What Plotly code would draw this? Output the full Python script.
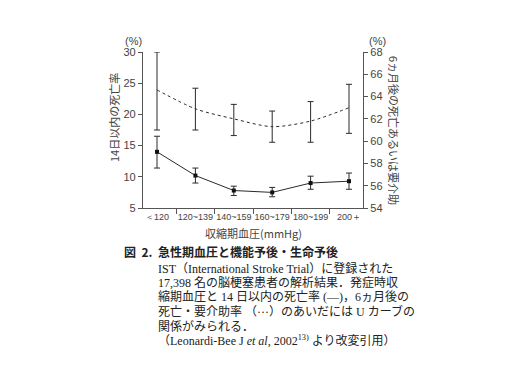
import plotly.graph_objects as go

categories = ["＜120", "120~139", "140~159", "160~179", "180~199", "200＋"]
death14 = [14.0, 10.2, 7.8, 7.5, 9.0, 9.3]
death14_hi = [16.5, 11.4, 8.5, 8.3, 10.1, 10.6]
death14_lo = [11.4, 9.0, 7.0, 6.8, 8.0, 8.0]
dep6m = [64.6, 62.9, 62.0, 61.3, 61.8, 63.0]
dep6m_hi = [68.0, 64.75, 63.3, 62.7, 63.55, 65.1]
dep6m_lo = [61.0, 61.0, 60.5, 59.9, 59.9, 60.7]

# page has an 8px body margin; work in screen pixels and convert
OFF = 8
W, H = 512 - OFF, 384 - OFF
L, R, T, B = 143, 363, 52, 208   # plot area in screen pixels
def px(x):
    return (x - L) / (R - L)
def py(y):
    return (B - y) / (B - T)

LINE = "#2a2a2a"
AX = "#555555"

fig = go.Figure()
fig.add_trace(go.Scatter(
    x=categories, y=dep6m, yaxis="y2", mode="lines",
    line=dict(color=LINE, width=1, dash="3px,3px", shape="spline", smoothing=0.8),
    error_y=dict(type="data", symmetric=False,
                 array=[h - v for h, v in zip(dep6m_hi, dep6m)],
                 arrayminus=[v - l for l, v in zip(dep6m_lo, dep6m)],
                 color=LINE, thickness=1, width=3),
    showlegend=False))
fig.add_trace(go.Scatter(
    x=categories, y=death14, mode="lines+markers",
    line=dict(color=LINE, width=1),
    marker=dict(symbol="square", size=4, color="#111"),
    error_y=dict(type="data", symmetric=False,
                 array=[h - v for h, v in zip(death14_hi, death14)],
                 arrayminus=[v - l for l, v in zip(death14_lo, death14)],
                 color=LINE, thickness=1, width=3),
    showlegend=False))

tickfont = dict(family="Liberation Sans, Arial", size=11, color="#444")
xtickfont = dict(family="Liberation Sans, Arial", size=9, color="#444")
fig.update_layout(
    width=W, height=H,
    margin=dict(l=L - OFF, r=(512 - R), t=T - OFF, b=(384 - B), autoexpand=False),
    paper_bgcolor="white", plot_bgcolor="white",
    xaxis=dict(type="category", categoryorder="array", categoryarray=categories,
               tickson="boundaries", showgrid=False, zeroline=False,
               showline=True, linecolor=AX, linewidth=1.2, ticks="outside",
               ticklen=5, tickcolor=AX, tickangle=0, automargin=False,
               tickfont=xtickfont),
    yaxis=dict(range=[5, 30], dtick=5, showgrid=False, zeroline=False,
               showline=True, linecolor=AX, linewidth=1.2, ticks="outside",
               ticklen=4, tickcolor=AX, tickfont=tickfont, automargin=False),
    yaxis2=dict(range=[54, 68], dtick=2, overlaying="y", side="right",
                showgrid=False, zeroline=False, showline=True, linecolor=AX,
                linewidth=1.2, ticks="outside", ticklen=4, tickcolor=AX,
                tickfont=tickfont, automargin=False),
)

ann = []
def add(x, y, text, size=11, anchor="left", angle=0, family="Noto Sans CJK JP", color="#333", yanchor="middle"):
    ann.append(dict(x=px(x), y=py(y), xref="paper", yref="paper", text=text,
                    showarrow=False, xanchor=anchor, yanchor=yanchor, textangle=angle,
                    font=dict(family=family, size=size, color=color)))

add(133, 41, "(%)", size=11, anchor="center", family="Liberation Sans, Arial", color="#444")
add(377, 41, "(%)", size=11, anchor="center", family="Liberation Sans, Arial", color="#444")
add(114, 118, "14日以内の死亡率", size=11, anchor="center", angle=-90, color="#444")
add(394, 130, "6ヵ月後の死亡あるいは要介助", size=11, anchor="center", angle=90, color="#444")
add(253, 233, "収縮期血圧(mmHg)", size=11, anchor="center", color="#444")

cap = "Liberation Serif, Noto Sans CJK JP"
add(122, 251, "<b>図  2.  急性期血圧と機能予後・生命予後</b>", size=12, family="Noto Sans CJK JP", color="#222")
lines = [
    "IST（International Stroke Trial）に登録された",
    "17,398 名の脳梗塞患者の解析結果．発症時収",
    "縮期血圧と 14 日以内の死亡率 (—)，6ヵ月後の",
    "死亡・要介助率 （···）のあいだには U カーブの",
    "関係がみられる．",
    "（Leonardi-Bee J <i>et al</i>, 2002<sup>13)</sup> より改変引用）",
]
for i, t in enumerate(lines):
    add(156, 268 + i * 14.5, t, size=12, family=cap, color="#222")

fig.update_layout(annotations=ann)
fig.write_html("out.html")
